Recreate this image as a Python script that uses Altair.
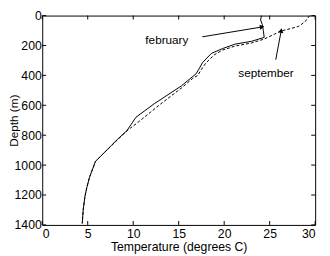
import math
import altair as alt
import pandas as pd

# ---- data ----
feb_depth = [0, 30, 60, 100, 146, 172, 191, 221, 253, 290, 316, 350, 390, 470, 590, 680,
             770, 826, 868, 930, 975, 1000, 1040, 1081, 1150, 1208, 1300, 1390]
feb_temp = [24.1, 24.0, 24.2, 24.3, 24.4, 23.0, 21.2, 19.8, 18.6, 18.0, 17.6, 17.3, 16.9, 15.3, 12.3, 10.3,
            9.3, 8.3, 7.6, 6.6, 5.85, 5.7, 5.45, 5.2, 4.9, 4.7, 4.5, 4.4]

sep_depth = [0, 40, 72, 87, 104, 125, 157, 183, 204, 231, 263, 316, 369, 400, 422, 480, 592, 720,
             752, 770, 826, 868, 930, 975, 1000, 1040, 1081, 1150, 1208, 1300, 1390]
sep_temp = [29.4, 28.9, 28.2, 27.3, 26.2, 25.5, 24.4, 23.0, 21.2, 19.8, 18.9, 18.0, 17.4, 17.1, 16.5, 15.4, 13.0, 10.4,
            9.7, 9.35, 8.35, 7.65, 6.6, 5.85, 5.7, 5.45, 5.2, 4.9, 4.7, 4.5, 4.4]

x_ticks = [0, 5, 10, 15, 20, 25, 30]
y_ticks = [0, 200, 400, 600, 800, 1000, 1200, 1400]

label_text = ["february", "september"]
label_temp = [13.7, 24.6]
label_depth = [162, 382]

arrow_start_temp = [17.6, 25.67]
arrow_start_depth = [142, 295]
arrow_end_temp = [24.17, 26.27]
arrow_end_depth = [76, 100]

# ---- layout ----
W, H = 279, 214
XMIN, XMAX = 0, 30
YMIN, YMAX = 0, 1400
FONT = "Liberation Sans"
TICK = 4

xscale = alt.Scale(domain=[XMIN, XMAX], nice=False, zero=False)
yscale = alt.Scale(domain=[YMIN, YMAX], nice=False, zero=False, reverse=True)

feb = pd.DataFrame({"temp": feb_temp, "depth": feb_depth, "i": range(len(feb_temp))})
sep = pd.DataFrame({"temp": sep_temp, "depth": sep_depth, "i": range(len(sep_temp))})

x_axis = alt.Axis(values=x_ticks, format="d", grid=False, domain=False, ticks=False, tickSize=0,
                  labelPadding=3, labelFontSize=12.5, labelColor="black", labelFont=FONT,
                  title="Temperature (degrees C)", titleFontSize=12.5, titleFontWeight="normal",
                  titleColor="black", titleFont=FONT, titleX=W / 2, titleY=16,
                  titleAlign="center", titleBaseline="top")
y_axis = alt.Axis(values=y_ticks, format="d", grid=False, domain=False, ticks=False, tickSize=0,
                  labelPadding=1, labelFontSize=12.5, labelColor="black", labelFont=FONT,
                  title="Depth (m)", titleFontSize=12, titleFontWeight="normal",
                  titleColor="black", titleFont=FONT, titleX=-29, titleY=H / 2,
                  titleAngle=270, titleAlign="center", titleBaseline="middle")


def X(field):
    return alt.X(field, scale=xscale, axis=x_axis)


def Y(field):
    return alt.Y(field, scale=yscale, axis=y_axis)


feb_line = alt.Chart(feb).mark_line(color="black", strokeWidth=1).encode(
    x=X("temp:Q"), y=Y("depth:Q"), order="i:Q")
sep_line = alt.Chart(sep).mark_line(color="black", strokeWidth=1, strokeDash=[3, 2]).encode(
    x=X("temp:Q"), y=Y("depth:Q"), order="i:Q")

# inward ticks on all four sides
xt = pd.DataFrame({"t": x_ticks})
yt = pd.DataFrame({"d": y_ticks})
xb = alt.Chart(xt).mark_rule(color="black", strokeWidth=1).encode(
    x=X("t:Q"), y=alt.value(H), y2=alt.value(H - TICK))
xtop = alt.Chart(xt).mark_rule(color="black", strokeWidth=1).encode(
    x=X("t:Q"), y=alt.value(0), y2=alt.value(TICK))
yl = alt.Chart(yt).mark_rule(color="black", strokeWidth=1).encode(
    y=Y("d:Q"), x=alt.value(0), x2=alt.value(TICK))
yr = alt.Chart(yt).mark_rule(color="black", strokeWidth=1).encode(
    y=Y("d:Q"), x=alt.value(W), x2=alt.value(W - TICK))

# annotations
px_per_t = W / (XMAX - XMIN)
px_per_d = H / (YMAX - YMIN)
angles = []
for t0, d0, t1, d1 in zip(arrow_start_temp, arrow_start_depth, arrow_end_temp, arrow_end_depth):
    dx = (t1 - t0) * px_per_t
    dy = (d1 - d0) * px_per_d
    angles.append((math.degrees(math.atan2(dy, dx)) + 360) % 360)

arrows = pd.DataFrame({"t0": arrow_start_temp, "d0": arrow_start_depth,
                       "t1": arrow_end_temp, "d1": arrow_end_depth, "angle": angles})
arrow_lines = alt.Chart(arrows).mark_rule(color="black", strokeWidth=1).encode(
    x=X("t0:Q"), y=Y("d0:Q"), x2="t1:Q", y2="d1:Q")
arrow_heads = alt.Chart(arrows).mark_point(shape="triangle-right", filled=True, size=28,
                                           color="black", opacity=1).encode(
    x=X("t1:Q"), y=Y("d1:Q"), angle=alt.Angle("angle:Q", scale=None))

labels = pd.DataFrame({"text": label_text, "t": label_temp, "d": label_depth})
label_marks = alt.Chart(labels).mark_text(font=FONT, fontSize=12, color="black",
                                          align="center", baseline="middle").encode(
    x=X("t:Q"), y=Y("d:Q"), text="text:N")

chart = alt.layer(feb_line, sep_line, xb, xtop, yl, yr, arrow_lines, arrow_heads, label_marks).properties(
    width=W, height=H,
    autosize=alt.AutoSizeParams(type="none"),
    padding={"left": 35, "top": 5, "right": 7, "bottom": 28},
).configure_view(stroke="black", strokeWidth=1).configure_text(font=FONT)

chart.save("out.html", embed_options={"renderer": "svg", "actions": False})
